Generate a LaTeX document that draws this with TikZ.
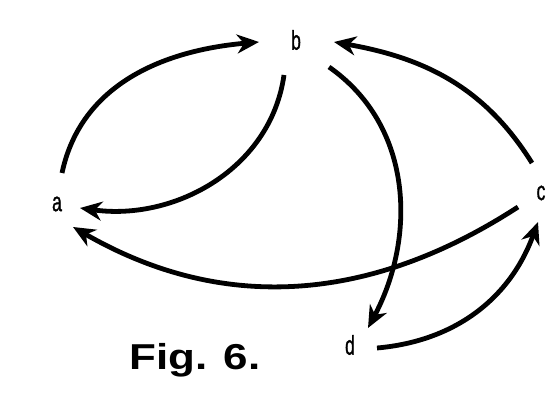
\documentclass[tikz,border=0pt]{standalone}
\usepackage{fontspec}
\usetikzlibrary{arrows.meta}
\newfontfamily\labfont{Liberation Sans}[FakeStretch=0.65,FakeBold=1]
\newfontfamily\figfont{Liberation Sans Bold}[FakeStretch=1.22]
\begin{document}
\begin{tikzpicture}[x=1pt,y=1pt,
  lab/.style={inner sep=0pt,font=\labfont\fontsize{27}{27}\selectfont},
  arc/.style={line width=4.8pt,-{Stealth[length=22pt,width=19pt,inset=7pt]}}]
\useasboundingbox[fill=white] (0,0) rectangle (560,402);
\node[lab] (a) at (57,198) {a};
\node[lab] (b) at (296,362) {b};
\node[lab] (c) at (541,209) {c};
\node[lab] (d) at (350,57) {d};
\node[inner sep=0pt,font=\figfont\fontsize{36}{36}\selectfont] (fig) at (195,42) {Fig. 6.};
% a -> b
\draw[arc] ([shift={(5,31)}]a.center) to[out=78,in=185] ([shift={(-37,-2)}]b.center);
% b -> a
\draw[arc] ([shift={(-12,-35)}]b.center) to[out=262,in=-8] ([shift={(23,-4)}]a.center);
% c -> b
\draw[arc] ([shift={(-9,30)}]c.center) to[out=122,in=-10] ([shift={(38,-2)}]b.center);
% b -> d
\draw[arc] ([shift={(33,-27)}]b.center) to[out=-35,in=62] ([shift={(18,17)}]d.center);
% c -> a
\draw[arc] ([shift={(-23,-14)}]c.center) to[out=213,in=-30] ([shift={(16,-23)}]a.center);
% d -> c
\draw[arc] ([shift={(27,-3)}]d.center) to[out=5,in=250] ([shift={(-3,-29)}]c.center);
\end{tikzpicture}
\end{document}
